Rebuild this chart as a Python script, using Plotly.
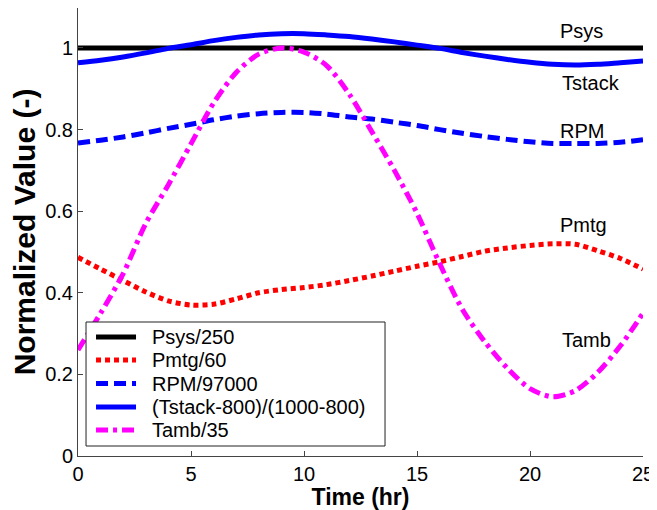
import plotly.graph_objects as go

# Time (hr)
time_hr = list(range(0, 26))

psys = [1.0] * 26
pmtg = [0.487, 0.458, 0.430, 0.402, 0.380, 0.370, 0.372, 0.385, 0.400, 0.408,
        0.413, 0.420, 0.430, 0.441, 0.453, 0.465, 0.476, 0.489, 0.502, 0.510,
        0.516, 0.520, 0.519, 0.503, 0.484, 0.458]
rpm = [0.767, 0.774, 0.782, 0.792, 0.803, 0.813, 0.824, 0.833, 0.839, 0.842,
       0.842, 0.838, 0.831, 0.826, 0.818, 0.810, 0.800, 0.791, 0.783, 0.776,
       0.770, 0.766, 0.766, 0.766, 0.769, 0.775]
tstack = [0.964, 0.970, 0.978, 0.988, 0.999, 1.008, 1.018, 1.026, 1.032, 1.035,
          1.035, 1.032, 1.028, 1.022, 1.015, 1.007, 0.999, 0.989, 0.980, 0.972,
          0.965, 0.960, 0.958, 0.960, 0.964, 0.968]
tamb = [0.260, 0.350, 0.447, 0.570, 0.665, 0.765, 0.865, 0.940, 0.985, 1.000,
        0.990, 0.957, 0.887, 0.795, 0.700, 0.595, 0.472, 0.360, 0.280, 0.215,
        0.165, 0.145, 0.160, 0.205, 0.270, 0.350]

series_names = ["Psys/250", "Pmtg/60", "RPM/97000", "(Tstack-800)/(1000-800)", "Tamb/35"]
x_ticks = [0, 5, 10, 15, 20, 25]
y_ticks = [0, 0.2, 0.4, 0.6, 0.8, 1.0]
y_tick_text = ["0", "0.2", "0.4", "0.6", "0.8", "1"]

labels = ["Psys", "Tstack", "RPM", "Pmtg", "Tamb"]
label_x = [22.3, 22.7, 22.3, 22.35, 22.5]
label_y = [1.042, 0.914, 0.797, 0.566, 0.284]

FONT = "Arial, Liberation Sans, sans-serif"

styles = [
    ("#000000", "solid"),
    ("#FF0000", "5px,4px"),
    ("#0000FF", "12px,6px"),
    ("#0000FF", "solid"),
    ("#FF00FF", "12px,5px,4px,5px"),
]
series_vals = [psys, pmtg, rpm, tstack, tamb]

fig = go.Figure()
for name, vals, (col, dash) in zip(series_names, series_vals, styles):
    fig.add_trace(go.Scatter(
        x=time_hr, y=vals, mode="lines", name=name, showlegend=False,
        line=dict(color=col, width=5, dash=dash, shape="spline", smoothing=0.8),
    ))

# curve labels
for txt, lx, ly in zip(labels, label_x, label_y):
    fig.add_annotation(x=lx, y=ly, text=txt, showarrow=False,
                       font=dict(family=FONT, size=20, color="#000000"))

# legend box (drawn in paper coordinates)
fig.add_shape(type="rect", xref="paper", yref="paper",
              x0=0.0142, x1=0.5434, y0=0.0223, y1=0.2991,
              line=dict(color="#222222", width=1), fillcolor="white", layer="above")
row_y = [0.2656, 0.2143, 0.1618, 0.1094, 0.0580]
for name, (col, dash), ry in zip(series_names, styles, row_y):
    fig.add_shape(type="line", xref="paper", yref="paper",
                  x0=0.0319, x1=0.1027, y0=ry, y1=ry,
                  line=dict(color=col, width=5, dash=dash), layer="above")
    fig.add_annotation(xref="paper", yref="paper", x=0.1274, y=ry, text=name,
                       showarrow=False, xanchor="left", yanchor="middle",
                       font=dict(family=FONT, size=20, color="#000000"))

fig.update_layout(
    width=649, height=502,
    margin=dict(l=70, r=14, t=0, b=54),
    paper_bgcolor="white", plot_bgcolor="white",
    font=dict(family=FONT, size=20, color="#000000"),
    showlegend=False,
    xaxis=dict(
        range=[0, 25], tickvals=x_ticks, ticks="inside", ticklen=5,
        tickcolor="#444444", showline=True, linecolor="#444444", linewidth=1,
        showgrid=False, zeroline=False, mirror=False,
        tickfont=dict(family=FONT, size=20),
        title=dict(text="<b>Time (hr)</b>", font=dict(family=FONT, size=23), standoff=3),
        automargin=False,
    ),
    yaxis=dict(
        range=[0, 1.098], tickvals=y_ticks, ticktext=y_tick_text, ticks="inside", ticklen=5,
        tickcolor="#444444", showline=True, linecolor="#444444", linewidth=1,
        showgrid=False, zeroline=False, mirror=False,
        tickfont=dict(family=FONT, size=20),
        title=dict(text="<b>Normalized Value (-)</b>", font=dict(family=FONT, size=30), standoff=2),
        automargin=False,
    ),
)

fig.write_html("out.html")
